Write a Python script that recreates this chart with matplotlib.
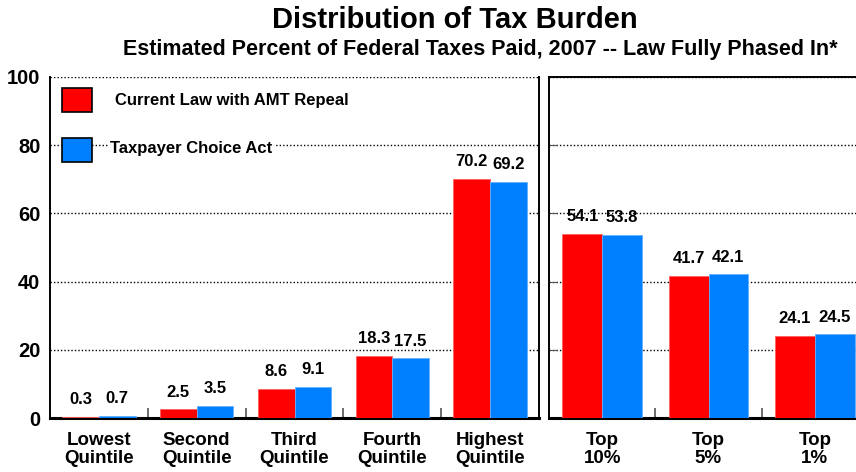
import numpy as np
import matplotlib.pyplot as plt
from matplotlib.patches import Rectangle

plt.rcParams['font.family'] = ['Liberation Sans', 'DejaVu Sans']
plt.rcParams['font.weight'] = 'bold'

quintiles = ["Lowest\nQuintile", "Second\nQuintile", "Third\nQuintile",
             "Fourth\nQuintile", "Highest\nQuintile"]
current_q = [0.3, 2.5, 8.6, 18.3, 70.2]
choice_q = [0.7, 3.5, 9.1, 17.5, 69.2]

tops = ["Top\n10%", "Top\n5%", "Top\n1%"]
current_t = [54.1, 41.7, 24.1]
choice_t = [53.8, 42.1, 24.5]

series_names = ["Current Law with AMT Repeal", "Taxpayer Choice Act"]
red = "#ff0000"
blue = "#0080ff"

fig = plt.figure(figsize=(8.56, 4.72), dpi=100)
ax1 = fig.add_axes([50 / 856, 54 / 472, 489 / 856, 341 / 472])
ax2 = fig.add_axes([549 / 856, 54 / 472, 319 / 856, 341 / 472])


def draw_panel(ax, labels, cur, cho):
    x = np.arange(len(labels))
    w = 0.375
    ax.bar(x - w / 2, cur, w, color=red, edgecolor="#ff6060", linewidth=0.6, zorder=3)
    ax.bar(x + w / 2, cho, w, color=blue, edgecolor="#60b0ff", linewidth=0.6, zorder=3)
    for xi, v in zip(x - w / 2, cur):
        ax.annotate(f"{v:.1f}", (xi, v), xytext=(0, 7), textcoords="offset points",
                    ha="center", va="bottom", fontsize=12, fontweight="bold")
    for xi, v in zip(x + w / 2, cho):
        ax.annotate(f"{v:.1f}", (xi, v), xytext=(0, 7), textcoords="offset points",
                    ha="center", va="bottom", fontsize=12, fontweight="bold")
    ax.set_xlim(-0.5, len(labels) - 0.5)
    ax.set_ylim(0, 100)
    ax.set_xticks(x)
    ax.set_xticklabels(labels, fontsize=13.5, fontweight="bold", linespacing=1.05)
    ax.set_xticks(np.arange(len(labels) - 1) + 0.5, minor=True)
    ax.tick_params(axis="x", which="major", length=0, pad=10)
    ax.tick_params(axis="x", which="minor", direction="in", length=7, color="#555555", width=1.2)
    ax.set_yticks([0, 20, 40, 60, 80, 100])
    ax.yaxis.grid(True, linestyle=(0, (1, 1.5)), color="black", linewidth=1.0, zorder=0)
    ax.spines["bottom"].set_linewidth(2.2)
    ax.spines["left"].set_linewidth(1.4)
    ax.set_axisbelow(True)


draw_panel(ax1, quintiles, current_q, choice_q)
draw_panel(ax2, tops, current_t, choice_t)

ax1.spines["top"].set_visible(False)
ax1.spines["right"].set_linewidth(1.4)
ax1.tick_params(axis="y", length=0, pad=7)
for t in ax1.get_yticklabels():
    t.set_fontsize(14.5)
    t.set_fontweight("bold")

ax2.spines["top"].set_linewidth(1.4)
ax2.spines["right"].set_visible(False)
ax2.tick_params(axis="y", direction="in", length=6, color="#555555", labelleft=False)

# legend drawn by hand, like the original
ax1.add_patch(Rectangle((0.025, 0.897), 0.06, 0.07, transform=ax1.transAxes,
                        facecolor=red, edgecolor="black", linewidth=1.2, zorder=5))
ax1.add_patch(Rectangle((0.025, 0.751), 0.06, 0.07, transform=ax1.transAxes,
                        facecolor=blue, edgecolor="black", linewidth=1.2, zorder=5))
ax1.text(0.133, 0.932, series_names[0], transform=ax1.transAxes, fontsize=12,
         fontweight="bold", va="center", ha="left", zorder=5,
         bbox=dict(facecolor="white", edgecolor="none", pad=1))
ax1.text(0.123, 0.79, series_names[1], transform=ax1.transAxes, fontsize=12,
         fontweight="bold", va="center", ha="left", zorder=5,
         bbox=dict(facecolor="white", edgecolor="none", pad=1))

fig.text(455 / 856, 1 - 20 / 472, "Distribution of Tax Burden", ha="center", va="center",
         fontsize=21, fontweight="bold")
fig.text(480 / 856, 1 - 50 / 472,
         "Estimated Percent of Federal Taxes Paid, 2007 -- Law Fully Phased In*",
         ha="center", va="center", fontsize=15.5, fontweight="bold")

fig.savefig("out.png", dpi=100)
